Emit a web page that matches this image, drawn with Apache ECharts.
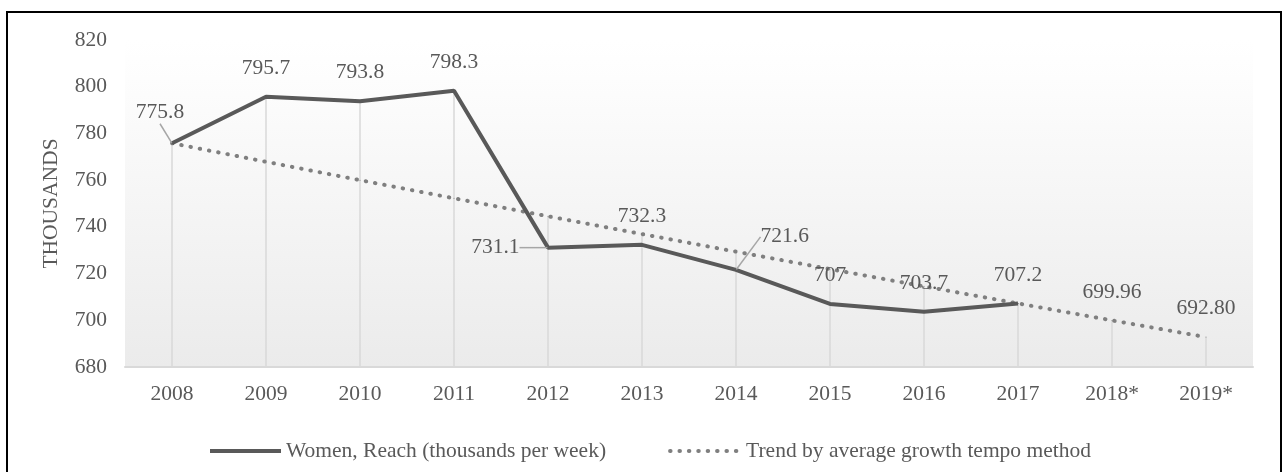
<!DOCTYPE html>
<html>
<head>
<meta charset="utf-8">
<script src="https://cdn.jsdelivr.net/npm/echarts@6/dist/echarts.min.js"></script>
<style>
  html, body { margin: 0; padding: 0; background: #fff; }
  #chart { width: 1283px; height: 472px; }
</style>
</head>
<body>
<div id="chart"></div>
<script>
var years = ['2008', '2009', '2010', '2011', '2012', '2013', '2014', '2015', '2016', '2017', '2018*', '2019*'];
var reach = [775.8, 795.7, 793.8, 798.3, 731.1, 732.3, 721.6, 707, 703.7, 707.2, null, null];
var trend = [775.8, 767.86, 760.00, 752.23, 744.54, 736.92, 729.38, 721.92, 714.53, 707.22, 699.96, 692.80];
var yTicks = { min: 680, max: 820, step: 20 };

var reachName = 'Women, Reach (thousands per week)';
var trendName = 'Trend by average growth tempo method';
var txt = '#595959';
var font = 'Liberation Serif';
var fs = 21.5;

// drop lines reach up to the higher of the two series
var dropTop = years.map(function (y, i) {
  return reach[i] == null ? trend[i] : Math.max(reach[i], trend[i]);
});

// labels that Excel moved off the default spot, with a leader line
var moved = {
  0: { dx: -12, dy: -2 },
  4: { position: 'left', distance: 28 },
  6: { position: 'right', distance: 24, dy: -33 }
};

var reachData = reach.map(function (v, i) {
  var item = { value: v };
  if (moved[i]) {
    item.labelLine = { show: true };
    if (moved[i].position) {
      item.label = { position: moved[i].position, distance: moved[i].distance };
    }
  }
  return item;
});

var chart = echarts.init(document.getElementById('chart'));
var option = {
  animation: false,
  textStyle: { fontFamily: font },
  graphic: [{
    type: 'rect',
    shape: { x: 7, y: 12, width: 1274, height: 470 },
    style: { fill: 'none', stroke: '#000', lineWidth: 2 },
    silent: true
  }],
  grid: {
    left: 125, right: 30, top: 40, bottom: 105,
    show: true, borderWidth: 0,
    backgroundColor: new echarts.graphic.LinearGradient(0, 0, 0, 1, [
      { offset: 0, color: '#ffffff' },
      { offset: 0.12, color: '#fdfdfd' },
      { offset: 1, color: '#ebebeb' }
    ])
  },
  legend: {
    data: [
      { name: reachName, itemStyle: { opacity: 0 }, lineStyle: { width: 4 } },
      { name: trendName, itemStyle: { opacity: 0 }, lineStyle: { width: 4 } }
    ],
    left: 203,
    top: 435,
    itemWidth: 71,
    itemHeight: 14,
    itemGap: 62,
    textStyle: { fontFamily: font, fontSize: fs, color: txt }
  },
  xAxis: {
    type: 'category',
    data: years,
    axisLine: { lineStyle: { color: '#d9d9d9', width: 2 } },
    axisTick: { show: false },
    axisLabel: { fontFamily: font, fontSize: fs, color: txt, margin: 16 }
  },
  yAxis: {
    type: 'value',
    min: yTicks.min, max: yTicks.max, interval: yTicks.step,
    name: 'THOUSANDS',
    nameLocation: 'middle',
    nameGap: 63,
    nameTextStyle: { fontFamily: font, fontSize: fs, color: txt },
    axisLine: { show: false },
    axisTick: { show: false },
    splitLine: { show: false },
    axisLabel: { fontFamily: font, fontSize: fs, color: txt, margin: 18 }
  },
  series: [
    {
      name: 'drop',
      type: 'bar',
      data: dropTop,
      barWidth: 1.5,
      itemStyle: { color: '#d9d9d9' },
      silent: true,
      z: 1
    },
    {
      name: trendName,
      type: 'line',
      data: trend,
      symbol: 'circle',
      symbolSize: 1,
      itemStyle: { color: '#7f7f7f' },
      lineStyle: { color: '#7f7f7f', width: 4, type: [0.5, 8.9], cap: 'round' },
      label: {
        show: true,
        position: 'top',
        distance: 17,
        fontFamily: font, fontSize: fs, color: txt,
        formatter: function (p) { return p.dataIndex >= 10 ? p.value.toFixed(2) : ''; }
      },
      z: 3
    },
    {
      name: reachName,
      type: 'line',
      data: reachData,
      symbol: 'circle',
      symbolSize: 1,
      itemStyle: { color: '#595959' },
      lineStyle: { color: '#595959', width: 4 },
      label: {
        show: true,
        position: 'top',
        distance: 17,
        fontFamily: font, fontSize: fs, color: txt
      },
      labelLine: { show: false, lineStyle: { color: '#a6a6a6', width: 1.5 } },
      labelLayout: function (p) {
        var m = moved[p.dataIndex];
        if (!m) return {};
        return { dx: m.dx || 0, dy: m.dy || 0 };
      },
      z: 4
    }
  ]
};
chart.setOption(option);
</script>
</body>
</html>
